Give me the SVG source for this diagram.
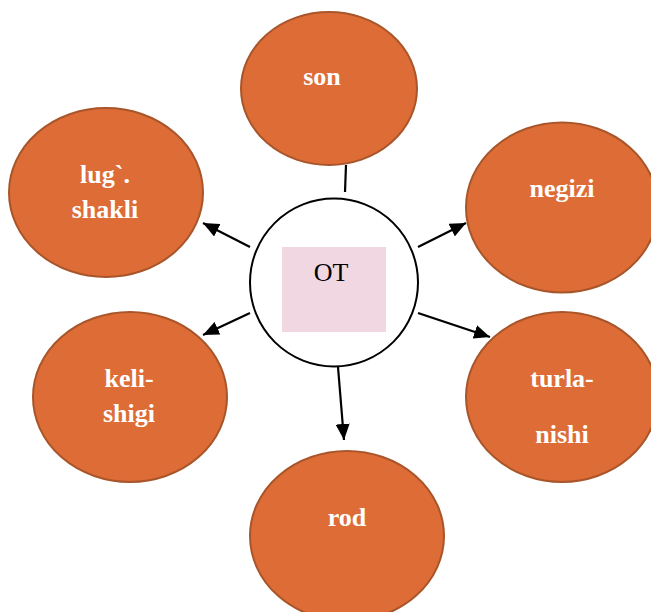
<svg xmlns="http://www.w3.org/2000/svg" width="651" height="612" viewBox="0 0 651 612">
  <style>
    .bubble { fill: #DD6C36; stroke: #A8552A; stroke-width: 2; }
    .label { font-family: "Liberation Serif", "Times New Roman", serif; font-weight: bold; font-size: 26px; fill: #FFFFFF; text-anchor: middle; }
    .hub { fill: #FFFFFF; stroke: #000000; stroke-width: 2; }
    .hub-box { fill: #F0D7E1; }
    .hub-text { font-family: "Liberation Serif", "Times New Roman", serif; font-size: 26px; fill: #000000; text-anchor: middle; }
    .link { stroke: #000000; stroke-width: 2.2; fill: none; }
  </style>
  <defs>
    <!-- solid triangular head, tip placed on the line end -->
    <marker id="arrow" viewBox="0 0 10 10" refX="10" refY="5" markerWidth="16" markerHeight="14" markerUnits="userSpaceOnUse" orient="auto" preserveAspectRatio="none">
      <path d="M0,0 L10,5 L0,10 z" fill="#000000"/>
    </marker>
  </defs>
  <rect width="651" height="612" fill="#FFFFFF"/>

  <g id="node-son">
    <ellipse class="bubble" cx="329" cy="88.5" rx="88" ry="76.5"/>
    <text class="label" x="322" y="85">son</text>
  </g>
  <g id="node-lug-shakli">
    <ellipse class="bubble" cx="106" cy="192.5" rx="97" ry="84.5"/>
    <text class="label" x="105" y="183">lug`.</text>
    <text class="label" x="105" y="218">shakli</text>
  </g>
  <g id="node-negizi">
    <ellipse class="bubble" cx="562" cy="207.5" rx="96" ry="85"/>
    <text class="label" x="562" y="197">negizi</text>
  </g>
  <g id="node-keli-shigi">
    <ellipse class="bubble" cx="130" cy="397" rx="97" ry="85"/>
    <text class="label" x="129" y="387">keli-</text>
    <text class="label" x="129" y="422">shigi</text>
  </g>
  <g id="node-turla-nishi">
    <ellipse class="bubble" cx="562" cy="397" rx="96" ry="85"/>
    <text class="label" x="562" y="387">turla-</text>
    <text class="label" x="562" y="443">nishi</text>
  </g>
  <g id="node-rod">
    <ellipse class="bubble" cx="347" cy="536" rx="97" ry="85"/>
    <text class="label" x="347" y="526">rod</text>
  </g>

  <g id="node-ot">
    <circle class="hub" cx="334" cy="282.5" r="84"/>
    <rect class="hub-box" x="282" y="247" width="104" height="85"/>
    <text class="hub-text" x="331" y="281">OT</text>
  </g>

  <g id="connectors">
    <line class="link" x1="346" y1="165" x2="345" y2="192"/>
    <line class="link" x1="250" y1="247" x2="203" y2="223" marker-end="url(#arrow)"/>
    <line class="link" x1="250" y1="313" x2="203" y2="335" marker-end="url(#arrow)"/>
    <line class="link" x1="418" y1="247" x2="466" y2="223" marker-end="url(#arrow)"/>
    <line class="link" x1="418" y1="313" x2="490" y2="337" marker-end="url(#arrow)"/>
    <line class="link" x1="338" y1="367" x2="344" y2="440" marker-end="url(#arrow)"/>
  </g>
</svg>
